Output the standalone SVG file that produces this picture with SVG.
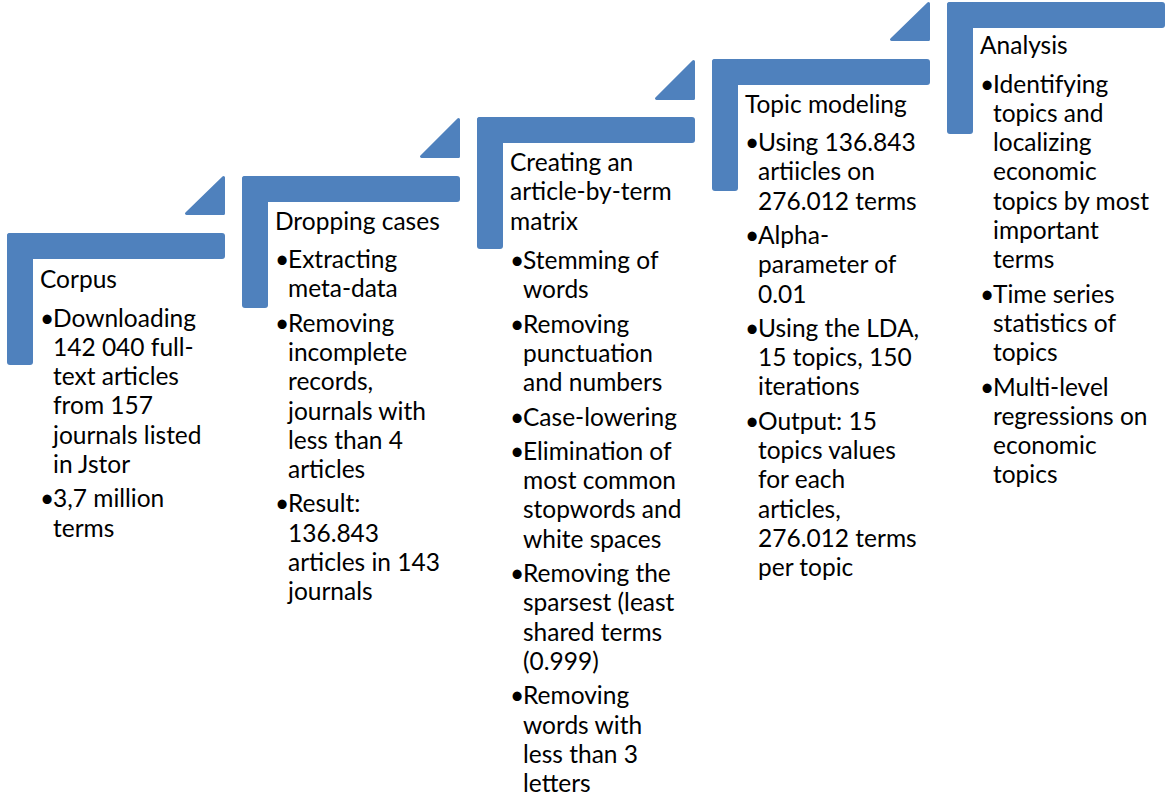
<svg xmlns="http://www.w3.org/2000/svg" width="1165" height="798" viewBox="0 0 1165 798">
<defs>
<style>
.bar{fill:#4F81BD;}
.tri{fill:#4F81BD;stroke:#4F81BD;stroke-width:3;stroke-linejoin:round;}
text{font-family:Lato,"Liberation Sans",sans-serif;font-size:24.5px;fill:#000;}
</style>
</defs>
<rect width="1165" height="798" fill="#fff"/>
<g id="connectors">
<path class="tri" d="M223.5,177.5 L186.5,213.5 L223.5,213.5 Z"/>
<path class="tri" d="M458.5,119.5 L421.5,156.5 L458.5,156.5 Z"/>
<path class="tri" d="M693.5,61.5 L656.5,98.5 L693.5,98.5 Z"/>
<path class="tri" d="M928.5,3.5 L891.5,39.5 L928.5,39.5 Z"/>
</g>
<g id="step1">
<rect class="bar" x="7" y="233" width="218" height="26" rx="3"/>
<rect class="bar" x="7" y="233" width="26" height="132" rx="3"/>
<text x="40" y="288">Corpus</text>
<text><tspan x="40" y="326.5">•</tspan><tspan x="53" y="326.5">Downloading</tspan><tspan x="53" y="355.8">142 040 full-</tspan><tspan x="53" y="385.1">text articles</tspan><tspan x="53" y="414.4">from 157</tspan><tspan x="53" y="443.7">journals listed</tspan><tspan x="53" y="473">in Jstor</tspan><tspan x="40" y="507.3">•</tspan><tspan x="53" y="507.3">3,7 million</tspan><tspan x="53" y="536.6">terms</tspan></text>
</g>
<g id="step2">
<rect class="bar" x="242" y="176" width="218" height="26" rx="3"/>
<rect class="bar" x="242" y="176" width="26" height="132" rx="3"/>
<text x="275" y="229.5">Dropping cases</text>
<text><tspan x="275" y="268">•</tspan><tspan x="288" y="268">Extracting</tspan><tspan x="288" y="297.3">meta-data</tspan><tspan x="275" y="331.6">•</tspan><tspan x="288" y="331.6">Removing</tspan><tspan x="288" y="360.9">incomplete</tspan><tspan x="288" y="390.2">records,</tspan><tspan x="288" y="419.5">journals with</tspan><tspan x="288" y="448.8">less than 4</tspan><tspan x="288" y="478.1">articles</tspan><tspan x="275" y="512.4">•</tspan><tspan x="288" y="512.4">Result:</tspan><tspan x="288" y="541.7">136.843</tspan><tspan x="288" y="571">articles in 143</tspan><tspan x="288" y="600.3">journals</tspan></text>
</g>
<g id="step3">
<rect class="bar" x="477" y="117" width="218" height="26" rx="3"/>
<rect class="bar" x="477" y="117" width="26" height="132" rx="3"/>
<text><tspan x="510" y="171">Creating an</tspan><tspan x="510" y="200.3">article-by-term</tspan><tspan x="510" y="229.6">matrix</tspan></text>
<text><tspan x="510" y="269">•</tspan><tspan x="523" y="269">Stemming of</tspan><tspan x="523" y="298.3">words</tspan><tspan x="510" y="332.6">•</tspan><tspan x="523" y="332.6">Removing</tspan><tspan x="523" y="361.9">punctuation</tspan><tspan x="523" y="391.2">and numbers</tspan><tspan x="510" y="425.5">•</tspan><tspan x="523" y="425.5">Case-lowering</tspan><tspan x="510" y="459.8">•</tspan><tspan x="523" y="459.8">Elimination of</tspan><tspan x="523" y="489.1">most common</tspan><tspan x="523" y="518.4">stopwords and</tspan><tspan x="523" y="547.7">white spaces</tspan><tspan x="510" y="582">•</tspan><tspan x="523" y="582">Removing the</tspan><tspan x="523" y="611.3">sparsest (least</tspan><tspan x="523" y="640.6">shared terms</tspan><tspan x="523" y="669.9">(0.999)</tspan><tspan x="510" y="704.2">•</tspan><tspan x="523" y="704.2">Removing</tspan><tspan x="523" y="733.5">words with</tspan><tspan x="523" y="762.8">less than 3</tspan><tspan x="523" y="792.1">letters</tspan></text>
</g>
<g id="step4">
<rect class="bar" x="712" y="59" width="218" height="26" rx="3"/>
<rect class="bar" x="712" y="59" width="26" height="132" rx="3"/>
<text x="745" y="112.5">Topic modeling</text>
<text><tspan x="745" y="151">•</tspan><tspan x="758" y="151">Using 136.843</tspan><tspan x="758" y="180.3">artiicles on</tspan><tspan x="758" y="209.6">276.012 terms</tspan><tspan x="745" y="243.9">•</tspan><tspan x="758" y="243.9">Alpha-</tspan><tspan x="758" y="273.2">parameter of</tspan><tspan x="758" y="302.5">0.01</tspan><tspan x="745" y="336.8">•</tspan><tspan x="758" y="336.8">Using the LDA,</tspan><tspan x="758" y="366.1">15 topics, 150</tspan><tspan x="758" y="395.4">iterations</tspan><tspan x="745" y="429.7">•</tspan><tspan x="758" y="429.7">Output: 15</tspan><tspan x="758" y="459">topics values</tspan><tspan x="758" y="488.3">for each</tspan><tspan x="758" y="517.6">articles,</tspan><tspan x="758" y="546.9">276.012 terms</tspan><tspan x="758" y="576.2">per topic</tspan></text>
</g>
<g id="step5">
<rect class="bar" x="947" y="2" width="218" height="26" rx="3"/>
<rect class="bar" x="947" y="2" width="26" height="132" rx="3"/>
<text x="980" y="54">Analysis</text>
<text><tspan x="980" y="92.5">•</tspan><tspan x="993" y="92.5">Identifying</tspan><tspan x="993" y="121.8">topics and</tspan><tspan x="993" y="151.1">localizing</tspan><tspan x="993" y="180.4">economic</tspan><tspan x="993" y="209.7">topics by most</tspan><tspan x="993" y="239">important</tspan><tspan x="993" y="268.3">terms</tspan><tspan x="980" y="302.6">•</tspan><tspan x="993" y="302.6">Time series</tspan><tspan x="993" y="331.9">statistics of</tspan><tspan x="993" y="361.2">topics</tspan><tspan x="980" y="395.5">•</tspan><tspan x="993" y="395.5">Multi-level</tspan><tspan x="993" y="424.8">regressions on</tspan><tspan x="993" y="454.1">economic</tspan><tspan x="993" y="483.4">topics</tspan></text>
</g>
</svg>
